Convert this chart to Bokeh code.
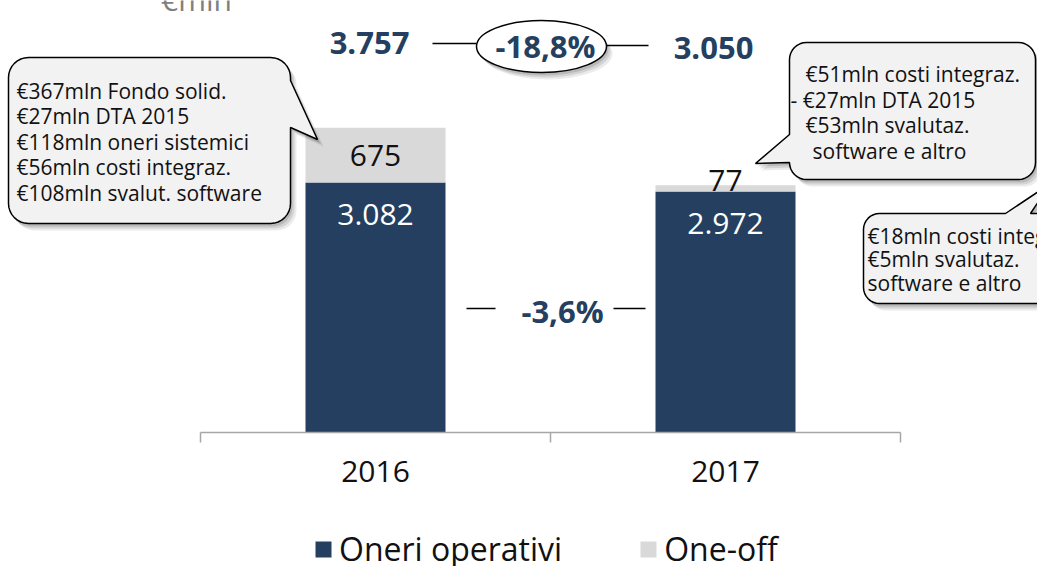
import math
from bokeh.plotting import figure
from bokeh.layouts import column
from bokeh.models import (ColumnDataSource, LinearAxis, FixedTicker, Range1d,
                          Legend, LegendItem)
from bokeh.core.properties import value
from bokeh.embed import file_html
from bokeh.resources import INLINE

# ---------------- data ----------------
years = ["2016", "2017"]
oneri_operativi = [3082, 2972]
one_off = [675, 77]
totals = [3757, 3050]
series_labels = ["Oneri operativi", "One-off"]
unit_label = "€mln"
notes_2016 = ["€367mln Fondo solid.", "€27mln DTA 2015", "€118mln  oneri sistemici",
              "€56mln costi integraz.", "€108mln svalut. software"]
notes_2017 = ["€51mln costi integraz.", "- €27mln DTA 2015", "€53mln svalutaz.",
              " software  e altro"]
notes_other = ["€18mln costi integraz.", "€5mln svalutaz.", "software  e altro"]


def fmt_int(n):
    return f"{n:,}".replace(",", ".")


def fmt_pct(v):
    return f"{v:.1f}%".replace(".", ",")


chg_total = fmt_pct((totals[1] - totals[0]) / totals[0] * 100)
chg_oneri = fmt_pct((oneri_operativi[1] - oneri_operativi[0]) / oneri_operativi[0] * 100)

# ---------------- styling / layout ----------------
NAVY = "#243F60"
GRAY = "#D9D9D9"
FONT = "Open Sans"
W = 1037
H1 = 500                   # main figure (frame + axis)
H2 = 566 - H1              # legend strip
FT, FB = 0, 432            # frame top / bottom in page pixels
PX_PER_UNIT = 0.0811
UPP = 1.0 / PX_PER_UNIT


def X(px):
    return (px - 200.0) / 350.0


def Y(py):
    return (FB - py) * UPP


p = figure(width=W, height=H1, output_backend="svg", toolbar_location=None,
           x_axis_location=None, y_axis_location=None,
           x_range=Range1d(X(0), X(W)), y_range=Range1d(0, Y(FT)),
           min_border_left=0, min_border_right=0, min_border_top=0,
           min_border_bottom=H1 - FB, outline_line_color=None,
           background_fill_color="white", border_fill_color="white")
p.grid.grid_line_color = None

xs = [i + 0.5 for i in range(len(years))]
src = ColumnDataSource(dict(x=xs, years=years, oneri=oneri_operativi, oneoff=one_off))
rs = p.vbar_stack(["oneri", "oneoff"], x="x", width=0.4, color=[NAVY, GRAY],
                  line_color=None, source=src)

# x axis with boundary ticks
xaxis = LinearAxis(ticker=FixedTicker(ticks=xs, minor_ticks=[0, 1, 2]),
                   bounds=(0, 2),
                   major_label_overrides={x: y for x, y in zip(xs, years)},
                   major_tick_in=0, major_tick_out=0,
                   minor_tick_in=0, minor_tick_out=10,
                   minor_tick_line_color="#a6a6a6", minor_tick_line_width=1.5,
                   axis_line_color="#a6a6a6", axis_line_width=1.5,
                   major_label_text_font=FONT, major_label_text_font_size="30px",
                   major_label_text_color="#111111", major_label_standoff=18)
p.add_layout(xaxis, "below")

# bar value labels
p.text(x=xs, y=[v - 32 * UPP for v in oneri_operativi],
       text=[fmt_int(v) for v in oneri_operativi], text_color="white",
       text_font=value(FONT), text_font_size="30px", text_align="center",
       text_baseline="middle")
oo_y = []
for a, b in zip(oneri_operativi, one_off):
    if b * PX_PER_UNIT > 40:
        oo_y.append(a + b / 2)
    else:
        oo_y.append(a + b + 5 * UPP)
p.text(x=xs, y=oo_y, text=[fmt_int(v) for v in one_off], text_color="#111111",
       text_font=value(FONT), text_font_size="30px", text_align="center",
       text_baseline="middle")

# totals and change annotations
p.text(x=[X(369), X(713)], y=[Y(42), Y(47)], text=[fmt_int(t) for t in totals],
       text_color=NAVY, text_font=value(FONT), text_font_size="31px",
       text_font_style="bold", text_align="center", text_baseline="middle")
p.segment(x0=[X(432), X(606)], y0=[Y(43), Y(45)], x1=[X(476), X(648)],
          y1=[Y(43), Y(45)], line_color="black", line_width=1.5)
for dx, dy, a in [(2, 3, 0.12), (4, 5, 0.10), (6, 7, 0.08)]:
    p.ellipse(x=[X(541 + dx)], y=[Y(46 + dy)], width=130, height=52,
              width_units="screen", height_units="screen",
              fill_color="black", fill_alpha=a, line_color=None)
p.ellipse(x=[X(541)], y=[Y(46)], width=130, height=52,
          width_units="screen", height_units="screen",
          fill_color="white", line_color="black", line_width=1.5)
p.text(x=[X(545)], y=[Y(45)], text=[chg_total], text_color=NAVY,
       text_font=value(FONT), text_font_size="31px", text_font_style="bold",
       text_align="center", text_baseline="middle")

p.segment(x0=[X(466), X(613)], y0=[Y(308), Y(308)], x1=[X(495), X(645)],
          y1=[Y(308), Y(308)], line_color="black", line_width=1.5)
p.text(x=[X(562)], y=[Y(310)], text=[chg_oneri], text_color=NAVY,
       text_font=value(FONT), text_font_size="31px", text_font_style="bold",
       text_align="center", text_baseline="middle")

# unit label (cut at the top, as in the original)
p.text(x=[X(196)], y=[Y(-1)], text=[unit_label], text_color="#808080",
       text_font=value(FONT), text_font_size="30px", text_align="center",
       text_baseline="alphabetic")

# ---------------- callouts ----------------
def arc(cx, cy, r, a0, a1, n=8):
    pts = []
    for k in range(n + 1):
        a = math.radians(a0 + (a1 - a0) * k / n)
        pts.append((cx + r * math.cos(a), cy + r * math.sin(a)))
    return pts


def callout(x0, y0, x1, y1, r, side, b1, tip, b2):
    pts = []
    pts += arc(x0 + r, y0 + r, r, 180, 270)
    if side == "top":
        pts += [b1, tip, b2]
    pts += arc(x1 - r, y0 + r, r, 270, 360)
    if side == "right":
        pts += [b1, tip, b2]
    pts += arc(x1 - r, y1 - r, r, 0, 90)
    pts += arc(x0 + r, y1 - r, r, 90, 180)
    if side == "left":
        pts += [b1, tip, b2]
    return pts


def draw_callout(pts):
    for dx, dy, a in [(2, 3, 0.12), (4, 5, 0.10), (6, 7, 0.08)]:
        p.patch([X(px + dx) for px, _ in pts], [Y(py + dy) for _, py in pts],
                fill_color="black", fill_alpha=a, line_color=None)
    p.patch([X(px) for px, _ in pts], [Y(py) for _, py in pts],
            fill_color="#f2f2f2", line_color="black", line_width=1.5)


c1 = callout(8, 57, 290, 223, 20, "right", (290, 80), (317, 139), (290, 127))
c2 = callout(789, 42, 1035, 179, 17, "left", (789, 162), (755, 163), (789, 134))
c3 = callout(863, 213, 1090, 303, 16, "top", (1005, 213), (1050, 183), (1030, 213))
for c in (c1, c2, c3):
    draw_callout(c)


def note_text(xpx, ypx, lines):
    p.text(x=[X(v) for v in xpx], y=[Y(v) for v in ypx], text=lines,
           text_color="#111111", text_font=value(FONT), text_font_size="21px",
           text_align="left", text_baseline="middle")


note_text([16] * 5, [90, 115.5, 141, 166.5, 192], notes_2016)
note_text([805, 790, 805, 812], [73, 99, 124.5, 150], notes_2017)
note_text([867] * 3, [235, 258.5, 282], notes_other)

# ---------------- legend strip ----------------
# same series drawn into a strip whose y-range lies above the data, so only
# the legend keys are visible there
pl = figure(width=W, height=H2, output_backend="svg", toolbar_location=None,
            x_axis_location=None, y_axis_location=None,
            x_range=Range1d(0, 2), y_range=Range1d(5000, 6000),
            min_border=0, outline_line_color=None,
            background_fill_color="white", border_fill_color="white")
pl.grid.grid_line_color = None
lrs = pl.vbar_stack(["oneri", "oneoff"], x="x", width=0.4, color=[NAVY, GRAY],
                    line_color=None, source=src)
legend = Legend(items=[LegendItem(label=series_labels[0], renderers=[lrs[0]]),
                       LegendItem(label=series_labels[1], renderers=[lrs[1]])],
                orientation="horizontal", location=(313, -4),
                border_line_color=None, background_fill_alpha=0,
                padding=0, margin=0, spacing=76, label_standoff=6,
                glyph_width=20, glyph_height=20,
                label_text_font=FONT, label_text_font_size="32px",
                label_text_color="#111111")
pl.add_layout(legend)

layout = column(p, pl, spacing=0)
open("out.html", "w").write(file_html(layout, INLINE))
